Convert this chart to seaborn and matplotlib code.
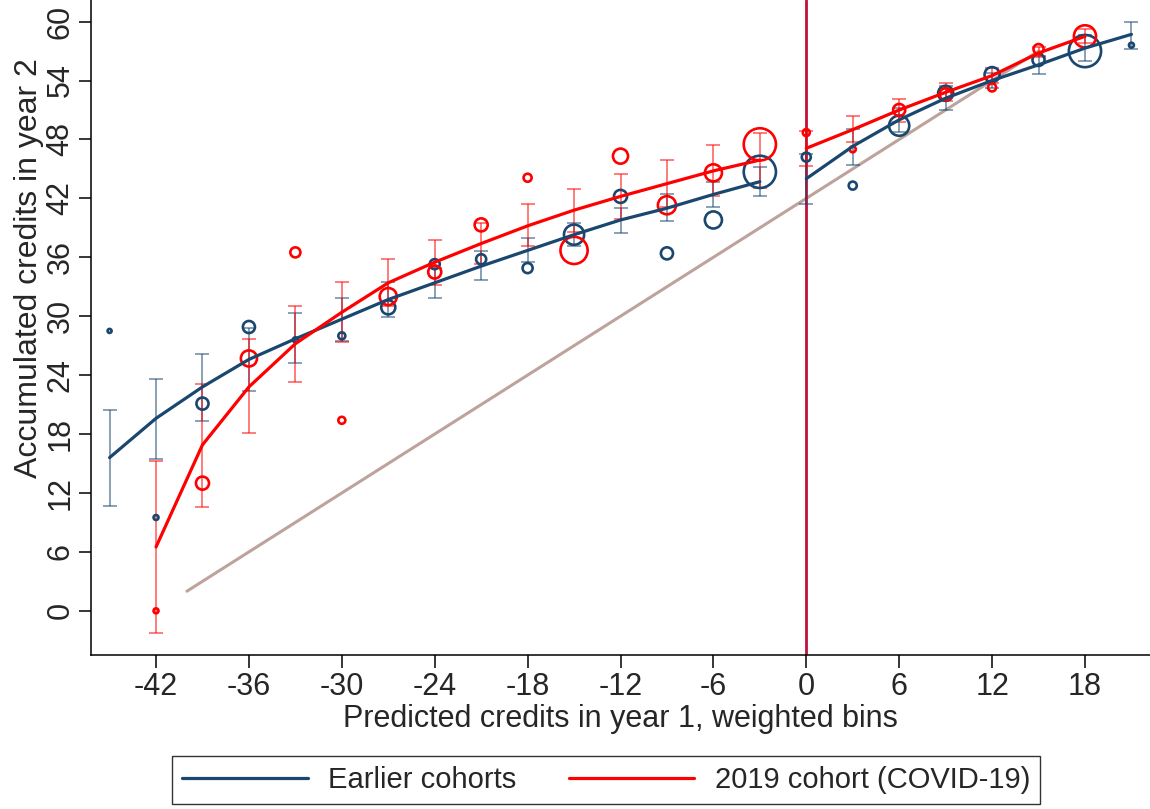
import numpy as np
import pandas as pd
import matplotlib
matplotlib.use("Agg")
import matplotlib.pyplot as plt
import seaborn as sns
from matplotlib.lines import Line2D

# ---------------- data ----------------
blue_x = [-45, -42, -39, -36, -33, -30, -27, -24, -21, -18, -15, -12, -9, -6, -3,
          0, 3, 6, 9, 12, 15, 18, 21]
blue_mean = [28.5, 9.5, 21.1, 28.9, 27.6, 28.0, 30.9, 35.3, 35.8, 34.9, 38.3, 42.2,
             36.4, 39.8, 44.7, 46.2, 43.3, 49.4, 52.7, 54.6, 56.1, 57.0, 57.6]
blue_fit = [15.6, 19.6, 22.8, 25.6, 27.7, 29.7, 31.7, 33.4, 35.1, 36.7, 38.3, 39.8,
            41.0, 42.4, 43.7, 44.0, 47.3, 50.0, 52.2, 54.0, 55.6, 57.3, 58.7]
blue_lo = [10.7, 15.5, 19.3, 22.4, 25.2, 27.5, 29.9, 31.9, 33.7, 35.5, 37.1, 38.5,
           39.7, 41.1, 42.2, 41.4, 45.4, 48.8, 51.0, 53.2, 54.7, 56.0, 57.2]
blue_hi = [20.4, 23.6, 26.2, 28.8, 30.3, 31.9, 33.5, 34.9, 36.6, 38.0, 39.5, 41.0,
           42.4, 43.7, 45.2, 46.5, 49.1, 51.2, 53.4, 54.8, 56.5, 58.6, 60.0]
blue_weight = [4, 6, 36, 36, 6, 12, 49, 25, 25, 25, 100, 42, 36, 72, 256, 20, 16,
               100, 56, 56, 36, 256, 6]

red_x = [-42, -39, -36, -33, -30, -27, -24, -21, -18, -15, -12, -9, -6, -3,
         0, 3, 6, 9, 12, 15, 18]
red_mean = [0.0, 13.0, 25.7, 36.5, 19.4, 32.0, 34.5, 39.3, 44.1, 36.7, 46.3, 41.3,
            44.6, 47.5, 48.7, 47.0, 51.0, 52.6, 53.3, 57.2, 58.5]
red_fit = [6.5, 16.9, 22.8, 27.2, 30.4, 33.4, 35.5, 37.4, 39.2, 40.8, 42.2, 43.5,
           44.8, 45.9, 47.1, 49.0, 51.0, 52.8, 54.5, 56.8, 58.5]
red_lo = [-2.3, 10.6, 18.1, 23.3, 27.4, 31.0, 33.2, 35.3, 37.1, 38.6, 39.9, 41.1,
          42.2, 43.1, 45.3, 47.7, 49.8, 51.9, 53.7, 56.4, 57.8]
red_hi = [15.3, 23.1, 27.7, 31.0, 33.5, 35.8, 37.8, 39.5, 41.4, 43.0, 44.5, 45.9,
          47.4, 48.7, 48.9, 50.4, 52.1, 53.7, 55.3, 57.4, 59.2]
red_weight = [6, 42, 64, 25, 12, 72, 42, 42, 16, 182, 56, 81, 72, 256, 12, 9,
              36, 36, 16, 25, 121]

diag_x = [-40, 15]  # 45-degree reference line y = x + 42
diag_offset = 42

x_ticks = [-42, -36, -30, -24, -18, -12, -6, 0, 6, 12, 18]
y_ticks = [0, 6, 12, 18, 24, 30, 36, 42, 48, 54, 60]

labels = ["Earlier cohorts", "2019 cohort (COVID-19)"]
xlabel = "Predicted credits in year 1, weighted bins"
ylabel = "Accumulated credits in year 2"

# ---------------- style ----------------
sns.set_theme(style="white")
plt.rcParams["font.family"] = ["Liberation Sans", "Arial", "DejaVu Sans"]

BLUE = "#1a476f"
RED = "#ff0000"
VLINE = "#c0103c"
DIAG = "#bda39c"

fig = plt.figure(figsize=(11.5, 8.09), dpi=100)
ax = fig.add_axes([91 / 1150, 1 - 655 / 809, (1150 - 91) / 1150, 655 / 809])

blue = pd.DataFrame(dict(x=blue_x, mean=blue_mean, fit=blue_fit, lo=blue_lo,
                         hi=blue_hi, w=blue_weight))
red = pd.DataFrame(dict(x=red_x, mean=red_mean, fit=red_fit, lo=red_lo,
                        hi=red_hi, w=red_weight))

# 45-degree line
diag = pd.DataFrame(dict(x=diag_x, y=[v + diag_offset for v in diag_x]))
sns.lineplot(data=diag, x="x", y="y", color=DIAG, lw=2.2, ax=ax, zorder=1)

# vertical cutoff line
ax.axvline(0, color=VLINE, lw=2.0, zorder=2)

for df, col in [(blue, BLUE), (red, RED)]:
    yerr = np.vstack([df["fit"] - df["lo"], df["hi"] - df["fit"]])
    ax.errorbar(df["x"], df["fit"], yerr=yerr, fmt="none", ecolor=col, alpha=0.6,
                elinewidth=1.2, capsize=4.8, capthick=1.2, zorder=3)
    sns.scatterplot(data=df, x="x", y="mean", s=df["w"] * 2.1, facecolor="none",
                    edgecolor=col, linewidth=1.9, marker="o", ax=ax, zorder=4,
                    legend=False)

for df, col in [(blue, BLUE), (red, RED)]:
    left = df[df["x"] < 0]
    right = df[df["x"] >= 0]
    sns.lineplot(data=left, x="x", y="fit", color=col, lw=2.3, ax=ax, zorder=5)
    sns.lineplot(data=right, x="x", y="fit", color=col, lw=2.3, ax=ax, zorder=5)

ax.set_xlim(-46.2, 22.2)
ax.set_ylim(-4.5, 62.2)
ax.set_xticks(x_ticks)
ax.set_yticks(y_ticks)
ax.set_xticklabels([str(t) for t in x_ticks], fontsize=22)
ax.set_yticklabels([str(t) for t in y_ticks], fontsize=22, rotation=90, va="center")
ax.tick_params(axis="x", direction="out", length=9, width=1.1, color="black",
               bottom=True, pad=3)
ax.tick_params(axis="y", direction="out", length=9, width=1.1, color="black",
               left=True, pad=2)
ax.set_xlabel(xlabel, fontsize=22, labelpad=2)
ax.set_ylabel(ylabel, fontsize=23)
ax.yaxis.set_label_coords(-0.044, 0.59)

for s in ["top", "right"]:
    ax.spines[s].set_visible(False)
for s in ["left", "bottom"]:
    ax.spines[s].set_color("black")
    ax.spines[s].set_linewidth(1.1)
ax.grid(False)

handles = [Line2D([0], [0], color=BLUE, lw=2.3), Line2D([0], [0], color=RED, lw=2.3)]
leg = fig.legend(handles, labels, loc="center", bbox_to_anchor=(0.527, 0.036),
                 ncol=2, fontsize=21, frameon=True, fancybox=False,
                 handlelength=4.3, handletextpad=0.7, columnspacing=1.8,
                 borderpad=0.35)
leg.get_frame().set_edgecolor("black")
leg.get_frame().set_linewidth(1.0)

fig.savefig("out.png", dpi=100)
